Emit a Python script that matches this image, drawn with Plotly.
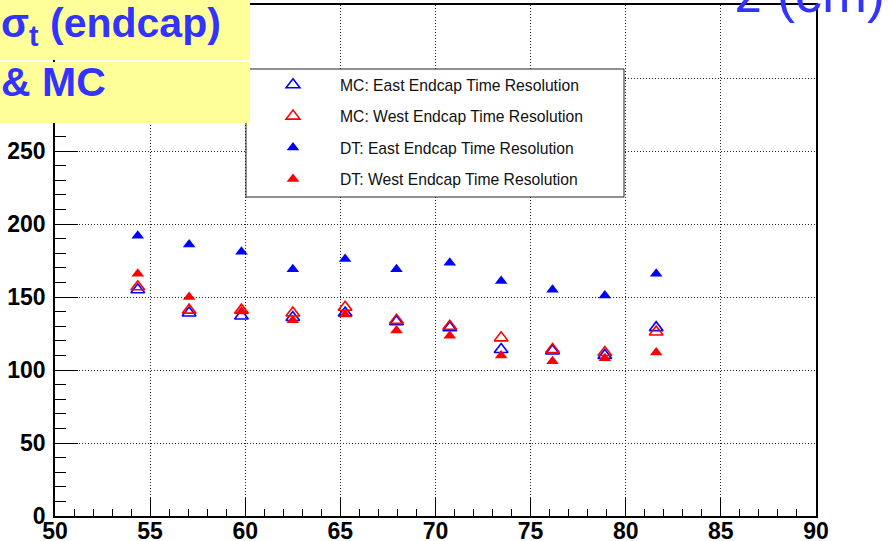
import plotly.graph_objects as go

# z position of each endcap slice (cm)
z_cm = [54.35, 57.05, 59.8, 62.5, 65.25, 67.95, 70.75, 73.45, 76.15, 78.9, 81.6]

# time resolution per slice
mc_east = [155, 139, 137, 136, 139, 133, 129, 114, 113, 110, 129]
mc_west = [157, 141, 141, 139, 143, 134, 130, 122, 114, 112, 126]
dt_east = [192, 186, 181, 169, 176, 169, 173.5, 161, 155, 151, 166]
dt_west = [166, 150, 140, 134, 138, 127, 123.5, 110, 106, 108, 112]

series_names = [
    "MC: East Endcap Time Resolution",
    "MC: West Endcap Time Resolution",
    "DT: East Endcap Time Resolution",
    "DT: West Endcap Time Resolution",
]

x_ticks = [50, 55, 60, 65, 70, 75, 80, 85, 90]
y_ticks = [0, 50, 100, 150, 200, 250, 300]

BLUE = "#0000ff"
RED = "#ff0000"
TEXT_BLUE = "#3333ff"
YELLOW = "#ffff99"

W, H = 888, 541
L, R, T, B = 55, 72, 5, 25
PW, PH = W - L - R, H - T - B


def px_x(p):
    return (p - L) / PW


def px_y(p):
    return 1 - (p - T) / PH


fig = go.Figure()

open_marker = dict(symbol="triangle-up-open", size=12, line=dict(width=1.6))
fill_marker = dict(symbol="triangle-up", size=11, line=dict(width=0))

fig.add_trace(go.Scatter(x=z_cm, y=mc_east, mode="markers", name=series_names[0],
                         legendgroup="a",
                         marker=dict(color=BLUE, **open_marker)))
fig.add_trace(go.Scatter(x=z_cm, y=mc_west, mode="markers", name=series_names[1],
                         legendgroup="b",
                         marker=dict(color=RED, **open_marker)))
fig.add_trace(go.Scatter(x=z_cm, y=dt_east, mode="markers", name=series_names[2],
                         legendgroup="c",
                         marker=dict(color=BLUE, **fill_marker)))
fig.add_trace(go.Scatter(x=z_cm, y=dt_west, mode="markers", name=series_names[3],
                         legendgroup="d",
                         marker=dict(color=RED, **fill_marker)))

tick_font = dict(family="Liberation Sans, Arial, sans-serif", size=23,
                 color="black", weight="bold")

fig.update_xaxes(
    range=[50, 90], tickvals=x_ticks, ticktext=[str(v) for v in x_ticks],
    ticks="inside", ticklen=18, tickwidth=1.2, tickcolor="black",
    minor=dict(ticks="inside", dtick=1, ticklen=7, tickwidth=1.2,
               tickcolor="black", showgrid=False),
    showgrid=True, gridcolor="#222", gridwidth=1, griddash="1px,2px",
    showline=True, linecolor="black", linewidth=1.5, mirror=True,
    zeroline=False, tickfont=tick_font, automargin=False,
    ticklabelstandoff=-6,
)
fig.update_yaxes(
    range=[0, 350], tickvals=y_ticks, ticktext=[str(v) for v in y_ticks],
    ticks="inside", ticklen=23, tickwidth=1.2, tickcolor="black",
    minor=dict(ticks="inside", dtick=10, ticklen=11, tickwidth=1.2,
               tickcolor="black", showgrid=False),
    showgrid=True, gridcolor="#222", gridwidth=1, griddash="1px,2px",
    showline=True, linecolor="black", linewidth=1.5, mirror=True,
    zeroline=False, tickfont=tick_font, automargin=False,
    ticklabelstandoff=3,
)

shapes = [
    # legend frame
    dict(type="rect", xref="paper", yref="paper",
         x0=px_x(246), x1=px_x(624), y0=px_y(197), y1=px_y(69),
         fillcolor="white", line=dict(color="#222", width=1), layer="above"),
    # title banner boxes
    dict(type="rect", xref="paper", yref="paper",
         x0=px_x(0), x1=px_x(250), y0=px_y(60), y1=px_y(-2),
         fillcolor=YELLOW, line=dict(width=0), layer="above"),
    dict(type="rect", xref="paper", yref="paper",
         x0=px_x(0), x1=px_x(250), y0=px_y(123), y1=px_y(62),
         fillcolor=YELLOW, line=dict(width=0), layer="above"),
]

banner_font = dict(family="Liberation Sans, Arial, sans-serif", size=41,
                   color=TEXT_BLUE, weight="bold")

annotations = [
    dict(text="σ<sub>t</sub> (endcap)", x=px_x(-1), y=px_y(26),
         xref="paper", yref="paper", xanchor="left", yanchor="middle",
         showarrow=False, font=banner_font),
    dict(text="& MC", x=px_x(-1), y=px_y(82), xref="paper", yref="paper",
         xanchor="left", yanchor="middle", showarrow=False, font=banner_font),
    dict(text="z (cm)", x=px_x(733), y=px_y(-7), xref="paper", yref="paper",
         xanchor="left", yanchor="middle", showarrow=False,
         font=dict(family="Liberation Sans, Arial, sans-serif", size=54,
                   color=TEXT_BLUE)),
]

fig.update_layout(
    width=W, height=H,
    margin=dict(l=L, r=R, t=T, b=B, autoexpand=False),
    paper_bgcolor="white", plot_bgcolor="white",
    showlegend=True,
    legend=dict(
        x=px_x(246), y=px_y(68), xanchor="left", yanchor="top",
        bgcolor="rgba(0,0,0,0)", borderwidth=0,
        itemwidth=84, tracegroupgap=8,
        font=dict(family="Liberation Sans, Arial, sans-serif", size=15.7,
                  color="#111"),
    ),
    shapes=shapes,
    annotations=annotations,
)

fig.write_html("out.html")
